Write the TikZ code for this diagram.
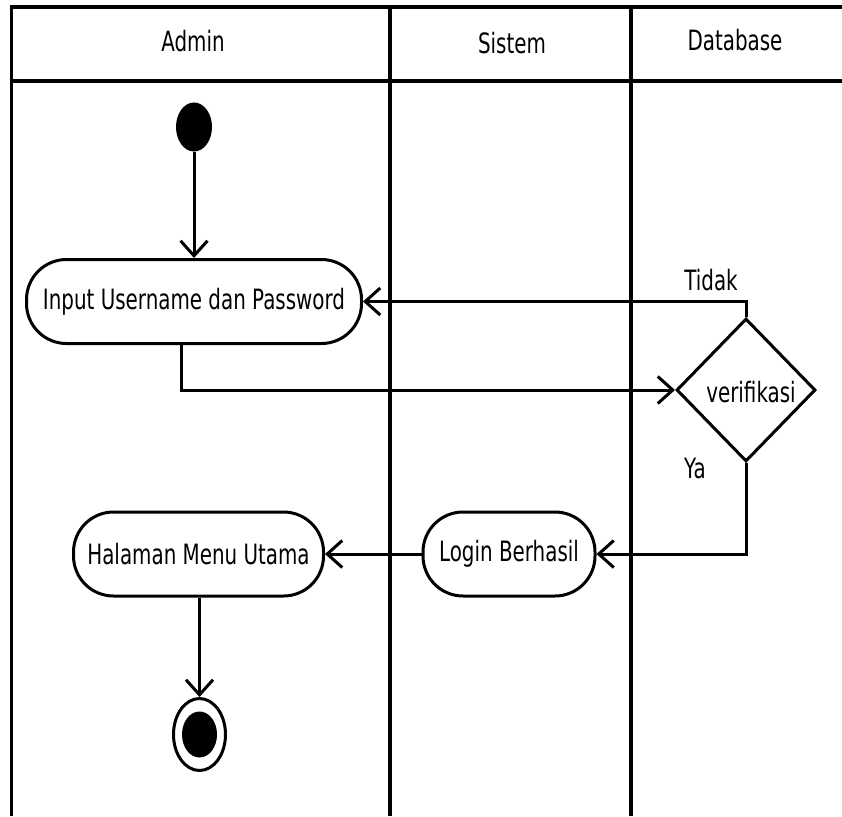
\documentclass[tikz,border=0pt]{standalone}
\usepackage{fontspec}
\setmainfont{DejaVu Sans}[FakeStretch=0.71]
\usetikzlibrary{arrows.meta,shapes.geometric}

\begin{document}
\begin{tikzpicture}[x=1pt,y=-1pt,
  every node/.style={font=\fontsize{28}{32}\selectfont, inner sep=0pt},
  hline/.style={line width=4pt},
  vline/.style={line width=3.5pt},
  activity/.style={draw, line width=3pt, rounded corners=40pt,
    minimum height=84pt, fill=white},
  decision/.style={draw, diamond, line width=3pt, minimum width=139pt,
    minimum height=143pt, fill=white},
  flow/.style={line width=3pt, -{Straight Barb[length=15pt,width=27pt]}},
  label/.style={anchor=base}
]
  % canvas
  \fill[white] (0,0) rectangle (842,816);
  \useasboundingbox (0,0) rectangle (842,816);

  % swimlane frame
  \draw[hline] (9.5,7) -- (842,7);
  \draw[hline] (9.5,81) -- (842,81);
  \draw[vline] (11.5,5) -- (11.5,816);
  \draw[vline] (390,5) -- (390,816);
  \draw[vline] (631,5) -- (631,816);

  % lane titles
  \node[label] (hAdmin) at (193,52) {Admin};
  \node[label] (hSistem) at (512,53) {Sistem};
  \node[label] (hDb) at (735,50) {Database};

  % activities
  \node[activity, minimum width=335pt] (input) at (194,301.5) {Input Username dan Password};
  \node[decision] (verif) at (746,390) {};
  \node at (751,392) {verifikasi};
  \node[activity, minimum width=172pt] (login) at (509,554) {Login Berhasil};
  \node[activity, minimum width=250pt] (menu) at (198.5,554) {Halaman Menu Utama};

  % initial and final states
  \node[ellipse, fill=black, minimum width=36pt, minimum height=49pt] (start) at (194,127) {};
  \node[ellipse, draw, line width=3pt, minimum width=52pt, minimum height=72pt] (stop) at (199.5,734.5) {};
  \node[ellipse, fill=black, minimum width=35pt, minimum height=46pt] (stopdot) at (stop) {};

  % control flow
  \draw[flow] (start.south) -- (start.south |- input.north);
  \draw[flow] ([xshift=-13pt]input.south) |- (verif.west);
  \draw[flow] (verif.north) |- (input.east);
  \draw[flow] (verif.south) |- (login.east);
  \draw[flow] (login.west) -- (menu.east);
  \draw[flow] (menu.south -| stop.north) -- (stop.north);

  % guard labels
  \node[label] (tidak) at (711,290) {Tidak};
  \node[label] (ya) at (695,478) {Ya};
\end{tikzpicture}
\end{document}
